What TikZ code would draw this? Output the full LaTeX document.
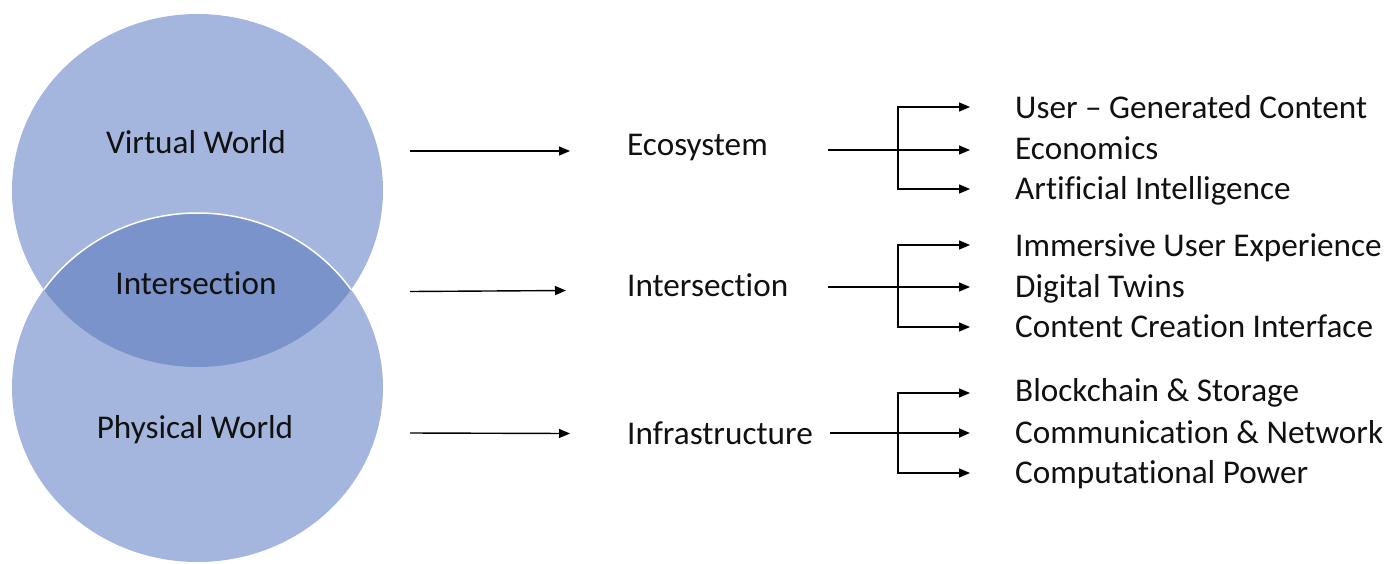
\documentclass[tikz,border=0pt]{standalone}
\usepackage{fontspec}
\setmainfont{Carlito}[Ligatures={NoCommon}]
\usetikzlibrary{arrows.meta}
\definecolor{circfill}{HTML}{A4B6DD}
\definecolor{lensfill}{HTML}{7A93CA}
\definecolor{txt}{HTML}{111111}
\begin{document}
\begin{tikzpicture}[x=1pt,y=-1pt,
  lbl/.style={inner sep=0pt,anchor=base west,text=txt,font=\fontsize{33.2}{40}\selectfont},
  clbl/.style={inner sep=0pt,anchor=base,text=txt,font=\fontsize{33.2}{40}\selectfont},
  arr/.style={line width=1.4pt,black,-{Triangle[length=11pt,width=9pt]}},
  ln/.style={line width=1.4pt,black}]
\useasboundingbox (0,0) rectangle (1388,563);
% circles
\fill[circfill] (197.5,190.5) ellipse [x radius=185.5, y radius=176.5];
\fill[circfill] (197.5,387.5) ellipse [x radius=185.5, y radius=174.5];
\begin{scope}
  \clip (197.5,190.5) ellipse [x radius=185.5, y radius=176.5];
  \fill[lensfill] (197.5,387.5) ellipse [x radius=185.5, y radius=174.5];
\end{scope}
\begin{scope}
  \clip (197.5,190.5) ellipse [x radius=185.5, y radius=176.5];
  \draw[white,line width=1.5pt] (197.5,387.5) ellipse [x radius=185.5, y radius=174.5];
\end{scope}
% circle labels
\node[clbl] (vw) at (196,153) {Virtual World};
\node[clbl] (iw) at (196,294) {Intersection};
\node[clbl] (pw) at (195,438) {Physical World};
% middle labels
\node[lbl] (eco) at (627,155) {Ecosystem};
\node[lbl] (int) at (627,296) {Intersection};
\node[lbl] (inf) at (627,444) {Infrastructure};
% right labels
\node[lbl] (e1) at (1015,118) {User -- Generated Content};
\node[lbl] (e2) at (1015,159) {Economics};
\node[lbl] (e3) at (1015,199) {Artificial Intelligence};
\node[lbl] (i1) at (1015,256) {Immersive User Experience};
\node[lbl] (i2) at (1015,297) {Digital Twins};
\node[lbl] (i3) at (1015,337) {Content Creation Interface};
\node[lbl] (f1) at (1015,401) {Blockchain \& Storage};
\node[lbl] (f2) at (1015,443) {Communication \& Network};
\node[lbl] (f3) at (1015,483) {Computational Power};
% first-stage arrows
\coordinate (a1s) at (410,151); \coordinate (a1e) at (570,151);
\coordinate (a2s) at (410,291.5); \coordinate (a2e) at (566,290.5);
\coordinate (a3s) at (410,433); \coordinate (a3e) at (570,433.5);
\draw[arr] (a1s) -- (a1e);
\draw[arr] (a2s) -- (a2e);
\draw[arr] (a3s) -- (a3e);
% branches: ecosystem
\coordinate (e0) at (828,150); \coordinate (ej) at (898,150);
\coordinate (et1) at (970,107); \coordinate (et2) at (970,150); \coordinate (et3) at (970,189);
\draw[arr] (e0) -- (et2);
\draw[arr] (ej) |- (et1);
\draw[arr] (ej) |- (et3);
% branches: intersection
\coordinate (i0) at (828,287); \coordinate (ij) at (898,287);
\coordinate (it1) at (970,245); \coordinate (it2) at (970,287); \coordinate (it3) at (970,327);
\draw[arr] (i0) -- (it2);
\draw[arr] (ij) |- (it1);
\draw[arr] (ij) |- (it3);
% branches: infrastructure
\coordinate (f0) at (830,433); \coordinate (fj) at (898,433);
\coordinate (ft1) at (970,393); \coordinate (ft2) at (970,433); \coordinate (ft3) at (970,473);
\draw[arr,line width=2pt] (f0) -- (ft2);
\draw[arr] (fj) |- (ft1);
\draw[arr] (fj) |- (ft3);
\end{tikzpicture}
\end{document}
